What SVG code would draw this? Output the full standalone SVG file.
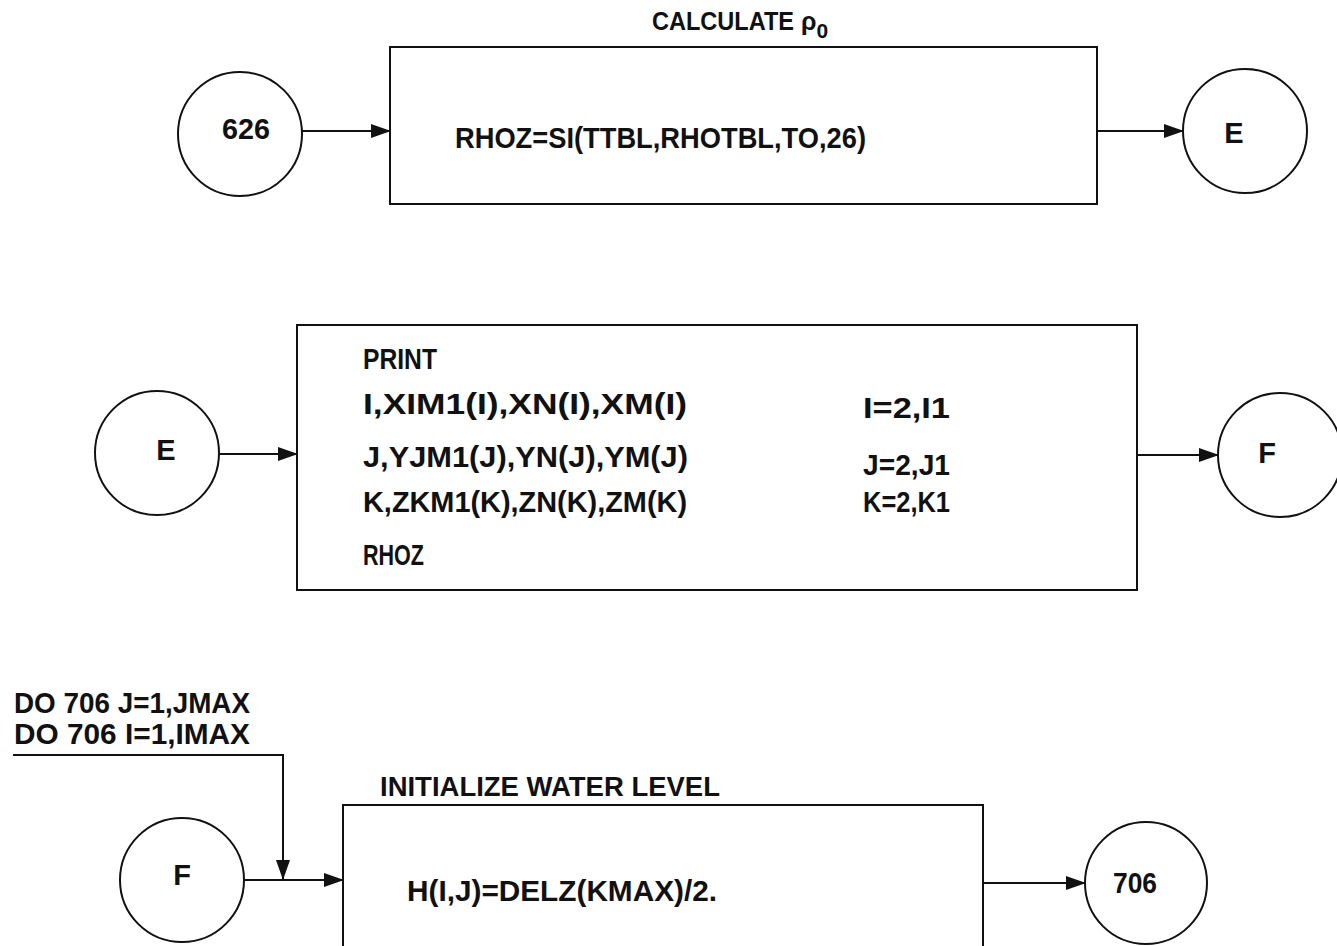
<svg xmlns="http://www.w3.org/2000/svg" width="1337" height="946" viewBox="0 0 1337 946">
<style>
  .ln { fill: none; stroke: #111; stroke-width: 2; }
  .t { font-family: "Liberation Sans", "DejaVu Sans", sans-serif; font-weight: bold; fill: #111; }
  .m { font-size: 30px; }
  .c { font-size: 29px; text-anchor: middle; }
</style>
<defs>
  <marker id="ah" markerWidth="20" markerHeight="14" refX="19" refY="7" orient="auto" markerUnits="userSpaceOnUse">
    <path d="M0,0 L20,7 L0,14 Z" fill="#111"/>
  </marker>
</defs>
<rect width="1337" height="946" fill="#fff"/>

<g id="title1">
  <text class="t" x="652" y="30" font-size="25" textLength="142" lengthAdjust="spacingAndGlyphs">CALCULATE</text>
  <text class="t" x="801" y="30" font-size="25">ρ<tspan font-size="21" dy="8">0</tspan></text>
</g>

<g id="n626">
  <circle class="ln" cx="240" cy="134" r="62"/>
  <text class="t c" x="246" y="139" font-size="33" textLength="48" lengthAdjust="spacingAndGlyphs">626</text>
</g>
<g id="box1">
  <rect class="ln" x="390" y="47" width="707" height="157"/>
  <text class="t m" x="455" y="148" textLength="411" lengthAdjust="spacingAndGlyphs">RHOZ=SI(TTBL,RHOTBL,TO,26)</text>
</g>
<g id="nE1">
  <circle class="ln" cx="1245" cy="131" r="62"/>
  <text class="t c" x="1234" y="143">E</text>
</g>

<g id="nE2">
  <circle class="ln" cx="157" cy="453" r="62"/>
  <text class="t c" x="166" y="460">E</text>
</g>
<g id="box2">
  <rect class="ln" x="297" y="325" width="840" height="265"/>
  <text class="t m" x="363" y="369" textLength="74" lengthAdjust="spacingAndGlyphs">PRINT</text>
  <text class="t m" x="363" y="414" textLength="324" lengthAdjust="spacingAndGlyphs">I,XIM1(I),XN(I),XM(I)</text>
  <text class="t m" x="363" y="467" textLength="325" lengthAdjust="spacingAndGlyphs">J,YJM1(J),YN(J),YM(J)</text>
  <text class="t m" x="363" y="512" textLength="324" lengthAdjust="spacingAndGlyphs">K,ZKM1(K),ZN(K),ZM(K)</text>
  <text class="t m" x="363" y="565" textLength="61" lengthAdjust="spacingAndGlyphs">RHOZ</text>
  <text class="t m" x="863" y="418" textLength="87" lengthAdjust="spacingAndGlyphs">I=2,I1</text>
  <text class="t m" x="863" y="475" textLength="87" lengthAdjust="spacingAndGlyphs">J=2,J1</text>
  <text class="t m" x="863" y="512" textLength="87" lengthAdjust="spacingAndGlyphs">K=2,K1</text>
</g>
<g id="nF1">
  <circle class="ln" cx="1280" cy="455" r="62"/>
  <text class="t c" x="1267" y="463">F</text>
</g>

<g id="loop">
  <text class="t m" x="14" y="713" textLength="236" lengthAdjust="spacingAndGlyphs">DO 706 J=1,JMAX</text>
  <text class="t m" x="14" y="744" textLength="236" lengthAdjust="spacingAndGlyphs">DO 706 I=1,IMAX</text>
</g>
<g id="nF2">
  <circle class="ln" cx="182" cy="880" r="62"/>
  <text class="t c" x="182" y="885">F</text>
</g>
<g id="box3">
  <text class="t" x="380" y="796" font-size="27" textLength="340" lengthAdjust="spacingAndGlyphs">INITIALIZE WATER LEVEL</text>
  <path class="ln" d="M343,960 L343,805 L983,805 L983,960"/>
  <text class="t m" x="407" y="901" textLength="310" lengthAdjust="spacingAndGlyphs">H(I,J)=DELZ(KMAX)/2.</text>
</g>
<g id="n706">
  <circle class="ln" cx="1146" cy="883" r="61"/>
  <text class="t c" x="1135" y="893" font-size="31" textLength="44" lengthAdjust="spacingAndGlyphs">706</text>
</g>

<g id="connectors">
  <line class="ln" x1="302" y1="131" x2="390" y2="131" marker-end="url(#ah)"/>
  <line class="ln" x1="1097" y1="131" x2="1183" y2="131" marker-end="url(#ah)"/>
  <line class="ln" x1="219" y1="454" x2="297" y2="454" marker-end="url(#ah)"/>
  <line class="ln" x1="1137" y1="455" x2="1218" y2="455" marker-end="url(#ah)"/>
  <polyline class="ln" points="13,755 283,755 283,879" marker-end="url(#ah)"/>
  <line class="ln" x1="244" y1="880" x2="343" y2="880" marker-end="url(#ah)"/>
  <line class="ln" x1="983" y1="883" x2="1085" y2="883" marker-end="url(#ah)"/>
</g>
</svg>
